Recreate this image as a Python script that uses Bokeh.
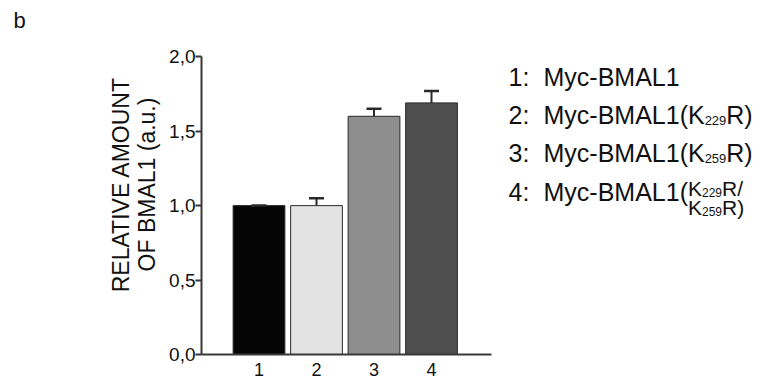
from bokeh.plotting import figure
from bokeh.models import (ColumnDataSource, FixedTicker, Range1d, Whisker, TeeHead, Label)
from bokeh.core.properties import value
from bokeh.embed import file_html
from bokeh.resources import INLINE

# ---------------- data ----------------
categories = ["1", "2", "3", "4"]
bar_x = [1, 2, 3, 4]
values = [1.00, 1.00, 1.60, 1.69]
errors = [0.00, 0.05, 0.05, 0.08]
bar_colors = ["#050505", "#e3e3e3", "#8e8e8e", "#4f4f4f"]
y_ticks = [0.0, 0.5, 1.0, 1.5, 2.0]
y_tick_labels = ["0,0", "0,5", "1,0", "1,5", "2,0"]
y_label = "RELATIVE AMOUNT\nOF BMAL1 (a.u.)"
panel_letter = "b"
legend_numbers = ["1:", "2:", "3:", "4:"]
legend_main = ["Myc-BMAL1", "Myc-BMAL1(K", "Myc-BMAL1(K", "Myc-BMAL1("]
legend_sub = ["", "229", "259", ""]
legend_tail = ["", "R)", "R)", ""]
stack_top = ["K", "229", "R/"]
stack_bottom = ["K", "259", "R)"]

FONT = "Liberation Sans"
TXT = "#111111"
AX = "#383838"

# Arial / Liberation Sans advance widths (1/1000 em)
W = {'M': 833, 'y': 500, 'c': 500, '-': 333, 'B': 667, 'A': 667, 'L': 556, '1': 556,
     '(': 333, ')': 333, 'K': 667, 'R': 722, '2': 556, '5': 556, '9': 556, '/': 278,
     ':': 278, ' ': 278, '3': 556, '4': 556}


def tw(s, size):
    return sum(W.get(ch, 556) for ch in s) * size / 1000.0


LEFT, TOP, ZERO_Y, PX_X, PX_Y = 201, 14, 352, 57.5, 148.0


def dx(px):
    return (px - LEFT) / PX_X


def dy(py):
    return (ZERO_Y - py) / PX_Y


WIDTH, HEIGHT = 768, 378
p = figure(width=WIDTH, height=HEIGHT, output_backend="svg", toolbar_location=None,
           x_range=Range1d(0, (WIDTH - LEFT) / PX_X),
           y_range=Range1d(0, (ZERO_Y - TOP) / PX_Y),
           min_border_left=LEFT, min_border_right=0, min_border_top=TOP, min_border_bottom=0)
p.outline_line_color = None
p.xgrid.visible = False
p.ygrid.visible = False
p.background_fill_color = "white"
p.border_fill_color = "white"

src = ColumnDataSource(dict(x=bar_x, top=values, color=bar_colors,
                            upper=[v + e for v, e in zip(values, errors)]))
p.vbar(x="x", top="top", width=0.9, source=src, fill_color="color",
       line_color="#2a2a2a", line_width=1)

wh = Whisker(source=src, base="x", upper="upper", lower="top",
             lower_head=None,
             upper_head=TeeHead(size=15, line_width=2.5, line_color="#2a2a2a"),
             line_width=2, line_color="#2a2a2a", level="annotation")
p.add_layout(wh)

# y axis
ya = p.yaxis[0]
ya.ticker = FixedTicker(ticks=y_ticks)
ya.major_label_overrides = {t: l for t, l in zip(y_ticks, y_tick_labels)}
ya.bounds = (0, 2.0)
ya.axis_line_color = AX
ya.axis_line_width = 2
ya.major_tick_line_color = AX
ya.major_tick_line_width = 2
ya.major_tick_out = 6
ya.major_tick_in = 0
ya.minor_tick_out = 0
ya.minor_tick_in = 0
ya.major_label_standoff = 0
ya.major_label_text_font = FONT
ya.major_label_text_font_size = "19px"
ya.major_label_text_color = TXT
ya.axis_label = y_label
ya.axis_label_text_font = FONT
ya.axis_label_text_font_size = "23px"
ya.axis_label_text_font_style = "normal"
ya.axis_label_text_color = TXT
ya.axis_label_text_line_height = 1.02
ya.axis_label_standoff = 6

# x axis
xa = p.xaxis[0]
xa.ticker = FixedTicker(ticks=bar_x)
xa.major_label_overrides = {x: c for x, c in zip(bar_x, categories)}
xa.bounds = (0, 5.05)
xa.axis_line_color = AX
xa.axis_line_width = 2
xa.major_tick_out = 0
xa.major_tick_in = 0
xa.minor_tick_out = 0
xa.minor_tick_in = 0
xa.major_label_standoff = 8
xa.major_label_text_font = FONT
xa.major_label_text_font_size = "18px"
xa.major_label_text_color = TXT

# legend text (label list to the right)
xs, ys, texts, sizes = [], [], [], []


def put(px, py, s, size):
    if s:
        xs.append(dx(px)); ys.append(dy(py)); texts.append(s); sizes.append(f"{size}px")


baselines = [76, 114, 152, 190]
NUM_X, NAME_X, MAIN, SUB = 508, 543, 25, 13
for i in range(4):
    b = baselines[i]
    put(NUM_X, b, legend_numbers[i], MAIN)
    put(NAME_X, b, legend_main[i], MAIN)
    cx = NAME_X + tw(legend_main[i], MAIN)
    if legend_sub[i]:
        put(cx, b + 5, legend_sub[i], SUB)
        cx += tw(legend_sub[i], SUB)
        put(cx, b, legend_tail[i], MAIN)
    if i == 3:
        for parts, sb in ((stack_top, 187), (stack_bottom, 206)):
            sx = cx
            put(sx, sb, parts[0], 21); sx += tw(parts[0], 21)
            put(sx, sb + 4, parts[1], 12); sx += tw(parts[1], 12)
            put(sx, sb, parts[2], 21)

tsrc = ColumnDataSource(dict(x=xs, y=ys, text=texts, size=sizes))
p.text(x="x", y="y", text="text", source=tsrc, text_font=value(FONT),
       text_font_size="size", text_color=TXT, text_baseline="alphabetic",
       text_align="left")

# panel letter placed in the left side panel (not clipped to the frame)
p.add_layout(Label(x=-79, y=ZERO_Y - 5, x_units="screen", y_units="screen",
                   text=panel_letter, text_font=FONT,
                   text_font_size="22px", text_color=TXT, text_baseline="top"), "left")

open("out.html", "w").write(file_html(p, INLINE))
